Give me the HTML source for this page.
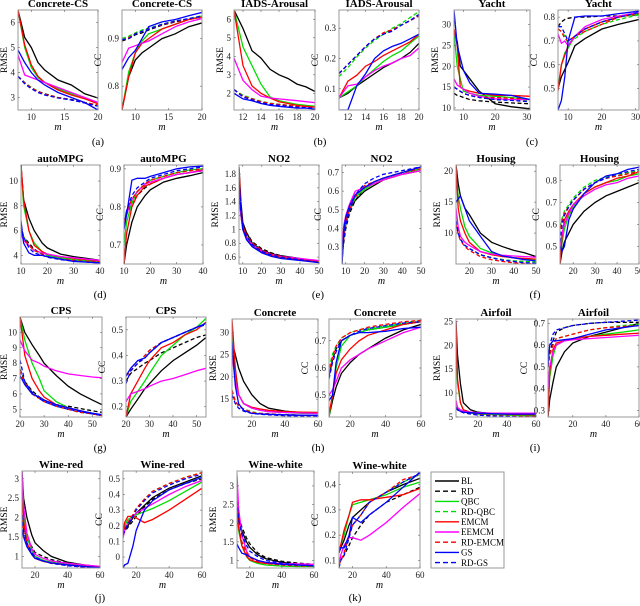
<!DOCTYPE html>
<html><head><meta charset="utf-8">
<style>
html,body{margin:0;padding:0;background:#fff;}
svg{display:block;font-family:"Liberation Serif",serif;}
</style></head>
<body>
<svg id="fig" width="640" height="606" viewBox="0 0 640 606" xmlns="http://www.w3.org/2000/svg"></svg>
<script>
// Series order: BL, RD, QBC, RD-QBC, EMCM, EEMCM, RD-EMCM, GS, RD-GS
const seriesNames=["BL","RD","QBC","RD-QBC","EMCM","EEMCM","RD-EMCM","GS","RD-GS"];

// (a) Concrete-CS
const aX=[8,9,10,11,12,14,16,18,20];
const aRmse=[[6.5,5.4,5.0,4.4,4.1,3.7,3.5,3.15,2.98],[3.85,3.6,3.4,3.25,3.15,3.0,2.92,2.8,2.68],[6.5,5.0,4.2,3.8,3.6,3.35,3.15,2.95,2.8],[3.85,3.6,3.4,3.25,3.12,3.0,2.9,2.8,2.7],[6.5,5.1,4.3,3.85,3.6,3.3,3.1,2.95,2.75],[4.7,3.9,3.8,3.7,3.6,3.4,3.2,3.0,2.8],[3.85,3.58,3.38,3.24,3.13,3.0,2.9,2.8,2.7],[4.9,4.4,4.0,3.7,3.5,3.2,3.0,2.8,2.5],[3.85,3.55,3.35,3.2,3.1,2.98,2.9,2.78,2.65]];
const aCC=[[0.75,0.82,0.855,0.87,0.88,0.9,0.91,0.925,0.933],[0.895,0.9,0.908,0.912,0.918,0.928,0.935,0.94,0.945],[0.75,0.83,0.87,0.895,0.91,0.92,0.93,0.94,0.947],[0.9,0.905,0.912,0.918,0.922,0.93,0.937,0.942,0.948],[0.75,0.82,0.87,0.89,0.9,0.92,0.93,0.94,0.945],[0.85,0.88,0.885,0.89,0.895,0.91,0.925,0.935,0.942],[0.897,0.902,0.91,0.915,0.92,0.929,0.936,0.941,0.946],[0.835,0.86,0.875,0.9,0.925,0.935,0.94,0.948,0.955],[0.898,0.9,0.91,0.915,0.92,0.93,0.937,0.942,0.947]];
// (b) IADS-Arousal
const bX=[11,12,13,14,15,16,17,18,19,20];
const bRmse=[[6.5,5.5,4.3,3.9,3.3,3.0,2.8,2.5,2.35,2.1],[2.2,1.85,1.7,1.55,1.45,1.4,1.35,1.3,1.3,1.25],[6.5,4.5,3.5,2.5,1.8,1.6,1.5,1.4,1.35,1.3],[2.2,1.9,1.72,1.57,1.47,1.41,1.36,1.32,1.3,1.27],[6.5,3.5,2.4,2.0,1.75,1.55,1.45,1.35,1.3,1.25],[3.9,2.7,2.2,1.85,1.75,1.7,1.65,1.6,1.55,1.5],[2.2,1.85,1.7,1.55,1.45,1.4,1.35,1.3,1.28,1.25],[2.0,1.7,1.6,1.45,1.35,1.3,1.25,1.2,1.2,1.15],[2.2,1.8,1.65,1.5,1.4,1.35,1.3,1.25,1.22,1.2]];
const bCC=[[0.07,0.085,0.11,0.13,0.15,0.17,0.185,0.2,0.22,0.25],[0.15,0.18,0.21,0.24,0.265,0.28,0.295,0.31,0.325,0.345],[0.07,0.09,0.11,0.14,0.165,0.19,0.21,0.225,0.25,0.275],[0.14,0.17,0.205,0.235,0.26,0.28,0.3,0.315,0.335,0.355],[0.07,0.125,0.145,0.175,0.19,0.21,0.225,0.24,0.255,0.28],[0.07,0.11,0.115,0.14,0.16,0.175,0.185,0.2,0.21,0.235],[0.15,0.18,0.21,0.24,0.265,0.285,0.295,0.31,0.325,0.34],[0.03,0.03,0.11,0.15,0.2,0.225,0.24,0.25,0.265,0.28],[0.15,0.18,0.21,0.24,0.265,0.28,0.29,0.31,0.325,0.345]];
// (c) Yacht
const cX=[7,8,9,10,12,15,20,25,31];
const cRmse=[[28,26,20,19,17,14,11,10.3,9.8],[13.5,13,12.8,12.5,12,11.7,11.4,11.2,11],[28,20,17,14,13.5,13,12.8,12.5,12],[15,14.5,14,13.5,13,12.5,12,11.8,11.8],[29,25,15,14.5,14,13.5,13,13,12.8],[17,15.5,15,14.5,13.5,12.8,12.2,12,12],[15,14.5,14,13.5,13,12.5,12.5,12.3,12.2],[33.5,25,22,19,16,13.5,13.3,13,12],[15,14.5,14,13.5,13,12.5,12,11.8,11.5]];
const cCC=[[0.5,0.55,0.58,0.61,0.68,0.71,0.75,0.77,0.79],[0.76,0.78,0.79,0.795,0.8,0.8,0.805,0.805,0.81],[0.5,0.6,0.65,0.67,0.72,0.75,0.78,0.8,0.815],[0.75,0.74,0.72,0.69,0.71,0.74,0.77,0.79,0.81],[0.49,0.6,0.64,0.68,0.72,0.75,0.78,0.8,0.82],[0.73,0.69,0.7,0.68,0.72,0.76,0.79,0.805,0.82],[0.75,0.74,0.71,0.7,0.72,0.74,0.77,0.8,0.815],[0.41,0.45,0.55,0.7,0.8,0.805,0.805,0.815,0.825],[0.76,0.76,0.73,0.7,0.72,0.75,0.78,0.8,0.82]];
// (d) autoMPG
const dX=[10,11,13,15,18,20,25,30,35,40];
const dRmse=[[11.3,8.5,7,6,5,4.6,4.1,3.9,3.75,3.6],[6.2,5.5,5,4.5,4.1,3.9,3.7,3.6,3.5,3.45],[11.3,8,6,5,4.3,4.0,3.8,3.65,3.55,3.5],[6.2,5.5,4.8,4.4,4.1,3.9,3.7,3.6,3.5,3.45],[11.3,8.5,6,4.8,4.3,4.1,3.9,3.75,3.65,3.55],[5.8,5.2,4.8,4.4,4.2,4.1,3.9,3.8,3.7,3.6],[6.1,5.4,4.8,4.4,4.1,3.9,3.7,3.6,3.5,3.45],[6.8,5,4.2,4.0,4.0,3.9,3.7,3.5,3.45,3.4],[6.4,5.5,4.6,4.2,4.0,3.85,3.65,3.55,3.45,3.4]];
const dCC=[[0.65,0.7,0.76,0.8,0.83,0.845,0.865,0.875,0.882,0.89],[0.76,0.78,0.81,0.83,0.85,0.86,0.875,0.885,0.89,0.895],[0.7,0.76,0.81,0.84,0.86,0.87,0.88,0.89,0.897,0.9],[0.76,0.79,0.82,0.84,0.86,0.87,0.88,0.89,0.895,0.9],[0.65,0.73,0.8,0.83,0.855,0.86,0.875,0.885,0.89,0.897],[0.75,0.78,0.82,0.84,0.86,0.865,0.875,0.885,0.89,0.895],[0.76,0.79,0.82,0.84,0.86,0.87,0.88,0.89,0.895,0.9],[0.74,0.78,0.87,0.875,0.875,0.88,0.89,0.9,0.905,0.907],[0.75,0.79,0.83,0.85,0.865,0.875,0.885,0.895,0.9,0.905]];
// (e) NO2
const eX=[8,9,10,12,15,20,25,30,40,50];
const eRmse=[[1.9,1.4,1.1,0.95,0.8,0.7,0.65,0.62,0.58,0.54],[1.7,1.3,1.05,0.95,0.82,0.72,0.66,0.62,0.57,0.53],[1.6,1.2,1.0,0.85,0.75,0.67,0.62,0.6,0.56,0.53],[1.65,1.25,1.02,0.9,0.78,0.69,0.63,0.6,0.56,0.53],[1.9,1.3,1.05,0.88,0.77,0.68,0.63,0.6,0.57,0.54],[1.5,1.2,1.0,0.87,0.77,0.69,0.64,0.61,0.58,0.55],[1.7,1.28,1.04,0.92,0.8,0.7,0.64,0.61,0.56,0.53],[1.7,1.3,1.0,0.85,0.75,0.66,0.61,0.58,0.55,0.52],[1.6,1.25,1.02,0.9,0.78,0.68,0.63,0.6,0.56,0.52]];
const eCC=[[0.21,0.38,0.44,0.5,0.55,0.6,0.63,0.66,0.69,0.71],[0.25,0.33,0.4,0.48,0.55,0.62,0.65,0.67,0.7,0.72],[0.3,0.4,0.45,0.52,0.57,0.61,0.64,0.66,0.69,0.72],[0.27,0.36,0.42,0.5,0.56,0.62,0.65,0.67,0.7,0.72],[0.25,0.39,0.45,0.52,0.58,0.62,0.64,0.66,0.69,0.71],[0.3,0.42,0.47,0.53,0.6,0.62,0.64,0.66,0.69,0.71],[0.26,0.35,0.42,0.5,0.57,0.63,0.65,0.67,0.7,0.72],[0.21,0.4,0.46,0.52,0.58,0.62,0.65,0.67,0.7,0.73],[0.25,0.35,0.42,0.5,0.58,0.64,0.67,0.69,0.71,0.73]];
// (f) Housing
const fX=[14,15,16,18,20,25,30,35,40,45,50];
const fRmse=[[21,18,16,14,13,10,8.5,7.8,7.2,6.8,6.2],[12,10,9,8,7.5,6.5,6,5.7,5.5,5.4,5.3],[20,16,14,11,9.5,7.5,6.8,6.3,6,5.8,5.6],[12,10,9,8,7.5,6.5,6,5.7,5.5,5.4,5.3],[21,14,12,10,8.5,7,6.5,6.2,6,5.9,5.8],[14,11,9.5,8.5,8,7,6.6,6.4,6.3,6.2,6.1],[11.5,9.8,8.8,7.8,7.2,6.2,5.7,5.4,5.2,5.1,5.0],[15,15.5,16,14,12,9.5,7,6.3,6,5.7,5.5],[12,10,9,8,7.5,6.5,6,5.6,5.4,5.2,5.1]];
const fCC=[[0.42,0.48,0.52,0.56,0.6,0.66,0.7,0.73,0.75,0.77,0.79],[0.58,0.62,0.65,0.68,0.71,0.76,0.79,0.81,0.82,0.83,0.84],[0.45,0.52,0.58,0.64,0.68,0.74,0.77,0.79,0.8,0.82,0.83],[0.59,0.63,0.66,0.69,0.72,0.77,0.8,0.815,0.825,0.835,0.845],[0.42,0.55,0.62,0.66,0.69,0.74,0.77,0.79,0.81,0.82,0.84],[0.49,0.56,0.6,0.65,0.69,0.73,0.76,0.78,0.79,0.81,0.82],[0.58,0.62,0.65,0.68,0.71,0.76,0.79,0.81,0.82,0.83,0.84],[0.5,0.48,0.5,0.62,0.67,0.74,0.79,0.82,0.83,0.85,0.86],[0.52,0.6,0.64,0.68,0.71,0.76,0.79,0.81,0.83,0.84,0.85]];
// (g) CPS
const gX=[20,22,25,28,30,35,40,45,50,54];
const gRmse=[[11,10,9.2,8.5,8,7.2,6.5,6,5.6,5.3],[7.6,6.8,6.2,5.8,5.6,5.3,5.2,5.05,4.9,4.8],[11,9.5,8,7,6.2,5.5,5.1,4.9,4.7,4.6],[7.5,6.7,6.0,5.7,5.5,5.2,5.0,4.8,4.7,4.6],[11,8.5,7,6.2,5.8,5.3,5.1,4.9,4.7,4.6],[9.5,8.8,8.2,8,7.8,7.5,7.3,7.2,7.1,7.05],[7.5,6.7,6.0,5.7,5.5,5.2,5.0,4.8,4.7,4.6],[7.2,6.6,6.0,5.8,5.6,5.3,5.1,4.9,4.75,4.65],[8.2,6.8,6.1,5.7,5.5,5.2,5.0,4.85,4.7,4.6]];
const gCC=[[0.16,0.19,0.23,0.27,0.29,0.34,0.38,0.41,0.44,0.47],[0.3,0.33,0.35,0.37,0.38,0.41,0.43,0.45,0.47,0.48],[0.16,0.22,0.26,0.3,0.33,0.4,0.44,0.48,0.51,0.545],[0.32,0.34,0.37,0.4,0.42,0.45,0.47,0.49,0.51,0.52],[0.16,0.25,0.3,0.35,0.38,0.43,0.45,0.48,0.5,0.53],[0.22,0.25,0.26,0.27,0.28,0.3,0.31,0.325,0.34,0.35],[0.32,0.34,0.37,0.4,0.42,0.45,0.47,0.49,0.51,0.52],[0.32,0.35,0.38,0.39,0.41,0.45,0.47,0.49,0.51,0.525],[0.29,0.34,0.37,0.39,0.41,0.45,0.47,0.49,0.51,0.52]];
// (h) Concrete
const hX=[8,10,12,15,20,25,30,40,50,60];
const hRmse=[[28,25,22,19,16,14,13,12.3,12,12],[17,14.5,13.5,12.8,12,11.8,11.7,11.5,11.4,11.4],[30,20,16,14,13,12.5,12.2,12,11.8,11.8],[17,14.5,13.5,12.8,12.2,11.8,11.6,11.5,11.4,11.4],[33,22,16,14,13.2,12.8,12.5,12.2,12.1,12],[25,19,16,14,13,12.5,12.2,12,11.9,11.8],[17,14.5,13.5,12.8,12,11.8,11.7,11.5,11.4,11.4],[28,18,14,12.5,11.8,11.7,11.6,11.5,11.4,11.4],[16,14,13,12.3,11.8,11.6,11.5,11.3,11.2,11.2]];
const hCC=[[0.42,0.48,0.53,0.58,0.62,0.65,0.67,0.71,0.74,0.76],[0.57,0.63,0.67,0.7,0.72,0.73,0.74,0.75,0.76,0.77],[0.42,0.5,0.6,0.68,0.72,0.73,0.74,0.75,0.76,0.77],[0.6,0.65,0.68,0.71,0.73,0.74,0.745,0.755,0.765,0.775],[0.43,0.5,0.58,0.63,0.67,0.7,0.72,0.74,0.76,0.77],[0.5,0.52,0.55,0.6,0.63,0.65,0.67,0.7,0.73,0.75],[0.58,0.64,0.68,0.71,0.73,0.74,0.75,0.76,0.77,0.775],[0.48,0.5,0.62,0.7,0.72,0.73,0.73,0.735,0.745,0.75],[0.56,0.62,0.66,0.7,0.72,0.735,0.745,0.755,0.765,0.77]];
// (i) Airfoil
const iX=[5,6,8,10,15,20,30,40,50,60];
const iRmse=[[25,18,12,8,6.5,6,5.7,5.5,5.4,5.3],[7,6.6,6.3,6,5.8,5.6,5.5,5.4,5.3,5.3],[20,12,8,6.5,5.8,5.6,5.5,5.4,5.3,5.2],[7,6.5,6.2,5.9,5.7,5.5,5.4,5.3,5.2,5.2],[25,13,8,6.5,6,5.8,5.7,5.6,5.5,5.5],[8.5,7,6.5,6.2,6,5.9,5.8,5.8,5.8,5.8],[7,6.5,6.2,5.9,5.7,5.5,5.3,5.2,5.1,5.1],[7,6.5,6.2,6,5.9,5.8,5.7,5.6,5.6,5.6],[7,6.5,6.2,5.9,5.6,5.4,5.2,5.1,5.0,5.0]];
const iCC=[[0.27,0.35,0.43,0.5,0.57,0.61,0.64,0.66,0.68,0.7],[0.5,0.56,0.62,0.66,0.68,0.69,0.7,0.705,0.705,0.705],[0.3,0.45,0.55,0.6,0.62,0.63,0.64,0.65,0.66,0.67],[0.5,0.55,0.6,0.63,0.64,0.65,0.67,0.68,0.69,0.695],[0.27,0.48,0.58,0.61,0.62,0.63,0.64,0.645,0.65,0.655],[0.4,0.5,0.57,0.6,0.62,0.625,0.63,0.635,0.64,0.645],[0.5,0.56,0.6,0.63,0.64,0.65,0.67,0.68,0.685,0.69],[0.5,0.6,0.62,0.62,0.625,0.63,0.65,0.67,0.68,0.69],[0.53,0.6,0.65,0.67,0.68,0.69,0.7,0.705,0.71,0.715]];
// (j) Wine-red
const jX=[12,13,15,18,20,25,30,40,50,60];
const jRmse=[[3.2,2.5,2.0,1.55,1.35,1.15,1.0,0.85,0.78,0.73],[2.1,1.75,1.45,1.25,1.1,1.0,0.92,0.82,0.76,0.72],[3.0,2.1,1.5,1.15,1.0,0.9,0.85,0.8,0.76,0.72],[2.0,1.6,1.3,1.05,0.95,0.88,0.82,0.77,0.73,0.71],[2.9,1.9,1.35,1.05,0.95,0.87,0.83,0.78,0.75,0.72],[3.2,2.3,1.6,1.2,1.05,0.95,0.88,0.82,0.78,0.74],[2.0,1.6,1.3,1.05,0.95,0.88,0.82,0.77,0.73,0.71],[1.7,1.5,1.25,1.05,0.95,0.88,0.83,0.78,0.74,0.71],[2.05,1.65,1.35,1.1,0.98,0.88,0.82,0.76,0.72,0.7]];
const jCC=[[0.14,0.17,0.2,0.25,0.28,0.33,0.38,0.44,0.48,0.52],[0.14,0.16,0.19,0.23,0.26,0.32,0.37,0.43,0.47,0.5],[0.15,0.2,0.24,0.26,0.27,0.29,0.31,0.36,0.42,0.48],[0.14,0.18,0.22,0.27,0.31,0.37,0.42,0.47,0.51,0.54],[0.14,0.22,0.26,0.26,0.25,0.22,0.24,0.3,0.37,0.44],[0.12,0.17,0.22,0.26,0.28,0.31,0.34,0.4,0.45,0.49],[0.14,0.18,0.22,0.27,0.31,0.37,0.42,0.47,0.51,0.54],[-0.07,-0.05,-0.04,0.07,0.17,0.3,0.36,0.43,0.47,0.51],[0.14,0.17,0.21,0.26,0.3,0.36,0.41,0.46,0.5,0.53]];
// (k) Wine-white
const kX=[12,13,15,18,20,25,30,40,50,60];
const kRmse=[[2.4,2.1,1.8,1.5,1.35,1.15,1.05,0.95,0.9,0.88],[2.5,2.2,1.9,1.6,1.45,1.2,1.08,0.98,0.93,0.9],[2.3,1.8,1.4,1.1,1.0,0.92,0.88,0.85,0.84,0.84],[2.4,1.9,1.5,1.2,1.08,0.97,0.92,0.88,0.86,0.85],[2.5,1.9,1.4,1.12,1.02,0.95,0.92,0.9,0.89,0.89],[3.3,2.4,1.7,1.25,1.1,1.0,0.95,0.92,0.91,0.9],[2.4,1.9,1.5,1.2,1.08,0.97,0.92,0.88,0.86,0.85],[1.45,1.35,1.2,1.15,1.1,1.0,0.95,0.9,0.88,0.86],[2.6,2.1,1.7,1.4,1.25,1.1,1.0,0.93,0.88,0.86]];
const kCC=[[0.13,0.15,0.18,0.24,0.27,0.3,0.33,0.37,0.4,0.425],[0.09,0.1,0.12,0.16,0.19,0.24,0.28,0.33,0.36,0.39],[0.14,0.16,0.2,0.28,0.32,0.33,0.34,0.36,0.39,0.41],[0.08,0.1,0.13,0.2,0.24,0.28,0.33,0.37,0.41,0.44],[0.13,0.16,0.22,0.28,0.33,0.34,0.34,0.35,0.36,0.385],[0.08,0.12,0.16,0.19,0.19,0.18,0.2,0.25,0.31,0.365],[0.08,0.1,0.13,0.2,0.24,0.28,0.33,0.37,0.42,0.44],[0.13,0.15,0.15,0.2,0.27,0.25,0.28,0.33,0.39,0.45],[0.07,0.1,0.12,0.19,0.24,0.28,0.33,0.37,0.41,0.445]];

const colors=["#000","#000","#0d0","#0d0","#f00","#f0f","#f00","#00f","#00f"];
const dashed=[false,true,false,true,false,false,true,false,true];

// panel layout: [title, xs, ys, box x0,x1,y0,y1, xmin,xmax, xticks, ymin,ymax, yticks, ylabel, name]
const panels=[
 ["Concrete-CS",aX,aRmse,18,98,10,110,8,20,[10,15,20],2.5,6.5,[3,4,5,6],"RMSE","a-rmse"],
 ["Concrete-CS",aX,aCC,122,202,10,110,8,20,[10,15,20],0.75,0.96,[0.8,0.9],"CC","a-cc"],
 ["IADS-Arousal",bX,bRmse,234,315,10,110,11,20,[12,14,16,18,20],1.1,6.5,[2,3,4,5,6],"RMSE","b-rmse"],
 ["IADS-Arousal",bX,bCC,339,419,10,110,11,20,[12,14,16,18,20],0.03,0.36,[0.1,0.2,0.3],"CC","b-cc"],
 ["Yacht",cX,cRmse,454,530,10,110,7,31,[10,20,30],9.5,33.5,[10,15,20,25,30],"RMSE","c-rmse"],
 ["Yacht",cX,cCC,558,639,10,110,7,31,[10,20,30],0.41,0.83,[0.5,0.6,0.7,0.8],"CC","c-cc"],
 ["autoMPG",dX,dRmse,21,100,165,264,10,40,[10,20,30,40],3.3,11.3,[4,6,8,10],"RMSE","d-rmse"],
 ["autoMPG",dX,dCC,124,203,165,264,10,40,[10,20,30,40],0.65,0.91,[0.7,0.8,0.9],"CC","d-cc"],
 ["NO2",eX,eRmse,239,319,165,264,8,50,[10,20,30,40,50],0.5,1.93,[0.6,0.8,1,1.2,1.4,1.6,1.8],"RMSE","e-rmse"],
 ["NO2",eX,eCC,342,421,165,264,8,50,[10,20,30,40,50],0.21,0.74,[0.3,0.4,0.5,0.6,0.7],"CC","e-cc"],
 ["Housing",fX,fRmse,456,536,165,264,14,50,[20,30,40,50],5,21,[10,15,20],"RMSE","f-rmse"],
 ["Housing",fX,fCC,560,639,165,264,14,50,[20,30,40,50],0.42,0.87,[0.5,0.6,0.7,0.8],"CC","f-cc"],
 ["CPS",gX,gRmse,20,102,317,417,20,54,[20,30,40,50],4.5,11,[5,6,7,8,9,10],"RMSE","g-rmse"],
 ["CPS",gX,gCC,126,206,317,417,20,54,[20,30,40,50],0.16,0.55,[0.2,0.3,0.4,0.5],"CC","g-cc"],
 ["Concrete",hX,hRmse,232,318,319,417,8,60,[20,40,60],11,33,[15,20,25,30],"RMSE","h-rmse"],
 ["Concrete",hX,hCC,329,421,319,417,8,60,[20,40,60],0.42,0.78,[0.5,0.6,0.7],"CC","h-cc"],
 ["Airfoil",iX,iRmse,456,536,319,417,5,60,[20,40,60],5,25.5,[5,10,15,20,25],"RMSE","i-rmse"],
 ["Airfoil",iX,iCC,548,639,319,417,5,60,[20,40,60],0.27,0.72,[0.3,0.4,0.5,0.6,0.7],"CC","i-cc"],
 ["Wine-red",jX,jRmse,22,100,471,568,12,60,[20,40,60],0.7,3.2,[1,1.5,2,2.5,3],"RMSE","j-rmse"],
 ["Wine-red",jX,jCC,123,202,471,568,12,60,[20,40,60],-0.07,0.55,[0,0.1,0.2,0.3,0.4,0.5],"CC","j-cc"],
 ["Wine-white",kX,kRmse,237,314,471,568,12,60,[20,40,60],0.8,3.4,[1,1.5,2,2.5,3],"RMSE","k-rmse"],
 ["Wine-white",kX,kCC,339,420,472,568,12,60,[20,40,60],0.07,0.45,[0.1,0.2,0.3,0.4],"CC","k-cc"]
];
const subLabels=[["(a)",98,145],["(b)",320,145],["(c)",532,145],["(d)",100,298],["(e)",318,298],["(f)",535,298],["(g)",100,451],["(h)",318,451],["(i)",535,451],["(j)",100,601],["(k)",355,601]];

const NS="http://www.w3.org/2000/svg";
const svg=document.getElementById('fig');
function mk(tag,attrs,parent){const e=document.createElementNS(NS,tag);for(const k in attrs)e.setAttribute(k,attrs[k]);(parent||svg).appendChild(e);return e;}

panels.forEach(p=>{
  const [title,xs,ys,x0,x1,y0,y1,xmin,xmax,xt,ymin,ymax,yt,ylab,nm]=p;
  const g=mk('g',{});
  
  
  const sx=v=>x0+(v-xmin)/(xmax-xmin)*(x1-x0);
  const sy=v=>y1-(v-ymin)/(ymax-ymin)*(y1-y0);
  const clipId='clip-'+nm;
  const cp=mk('clipPath',{id:clipId},g);
  mk('rect',{x:x0,y:y0,width:x1-x0,height:y1-y0},cp);
  ys.forEach((s,i)=>{
    const d=s.map((v,j)=>(j?'L':'M')+sx(xs[j]).toFixed(1)+','+sy(v).toFixed(1)).join('');
    const path=mk('path',{d:d,fill:'none',stroke:colors[i],'stroke-width':1.3,'clip-path':'url(#'+clipId+')'},g);
    if(dashed[i])path.setAttribute('stroke-dasharray','4,2.5');
    
    
  });
  const box=mk('rect',{x:x0,y:y0,width:x1-x0,height:y1-y0,fill:'none',stroke:'#999','stroke-width':1},g);
  
  
  xt.forEach(v=>{
    const X=sx(v);
    mk('line',{x1:X,x2:X,y1:y1,y2:y1-2,stroke:'#666','stroke-width':0.6},g);
    mk('line',{x1:X,x2:X,y1:y0,y2:y0+2,stroke:'#666','stroke-width':0.6},g);
    const t=mk('text',{x:X,y:y1+10,'font-size':9,'text-anchor':'middle',fill:'#222'},g);
    t.textContent=v;
    
    
  });
  let maxc=1;
  yt.forEach(v=>{
    const Y=sy(v);
    maxc=Math.max(maxc,String(v).length);
    mk('line',{x1:x0,x2:x0+2,y1:Y,y2:Y,stroke:'#666','stroke-width':0.6},g);
    mk('line',{x1:x1,x2:x1-2,y1:Y,y2:Y,stroke:'#666','stroke-width':0.6},g);
    const t=mk('text',{x:x0-3,y:Y+3,'font-size':9,'text-anchor':'end',fill:'#222'},g);
    t.textContent=v;
    
    
  });
  const tt=mk('text',{x:(x0+x1)/2,y:y0-3,'font-size':11,'font-weight':'bold','text-anchor':'middle'},g);
  tt.textContent=title;
  
  
  const xl=mk('text',{x:(x0+x1)/2,y:y1+20,'font-size':10,'font-style':'italic','text-anchor':'middle'},g);
  xl.textContent='m';
  
  
  const lx=Math.max(7,x0-6-maxc*5), ly=(y0+y1)/2;
  const yl=mk('text',{x:lx,y:ly,'font-size':9.5,'text-anchor':'middle',transform:'rotate(-90 '+lx+' '+ly+')'},g);
  yl.textContent=ylab;
  
  
});

subLabels.forEach(s=>{
  const t=mk('text',{x:s[1],y:s[2],'font-size':11,'text-anchor':'middle'});
  t.textContent=s[0];
  
  
});

// legend
const lg=mk('g',{});


mk('rect',{x:431,y:472,width:73,height:96,fill:'#fff',stroke:'#999','stroke-width':1},lg);
seriesNames.forEach((n,i)=>{
  const Y=481+i*10.2;
  const e=mk('g',{},lg);
  
  
  const l=mk('line',{x1:435,x2:459,y1:Y,y2:Y,stroke:colors[i],'stroke-width':1.4},e);
  if(dashed[i])l.setAttribute('stroke-dasharray','5,3');
  const t=mk('text',{x:461,y:Y+3.2,'font-size':9},e);
  t.textContent=n;
});
</script>
</body></html>
